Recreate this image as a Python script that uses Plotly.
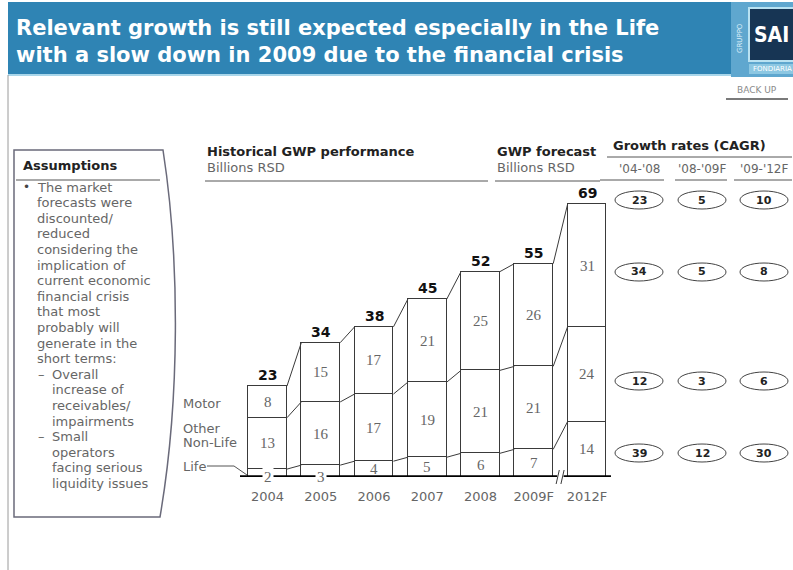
import plotly.graph_objects as go

W, H = 793, 570

# ---- data -------------------------------------------------------------
years = ["2004", "2005", "2006", "2007", "2008", "2009F", "2012F"]
life = [2, 3, 4, 5, 6, 7, 14]
other_non_life = [13, 16, 17, 19, 21, 21, 24]
motor = [8, 15, 17, 21, 25, 26, 31]
totals = [23, 34, 38, 45, 52, 55, 69]

cagr_periods = ["'04-'08", "'08-'09F", "'09-'12F"]
cagr_total = [23, 5, 10]
cagr_motor = [34, 5, 8]
cagr_other = [12, 3, 6]
cagr_life = [39, 12, 30]

assumption_lines = [
    "The market", "forecasts were", "discounted/", "reduced",
    "considering the", "implication of", "current economic",
    "financial crisis", "that most", "probably will",
    "generate in the", "short terms:",
]
sub_bullets = [
    ["Overall", "increase of", "receivables/", "impairments"],
    ["Small", "operators", "facing serious", "liquidity issues"],
]

# ---- helpers: pixel -> paper ------------------------------------------
def X(px):
    return px / W


def Y(py):
    return 1 - py / H


FONT = "DejaVu Sans"
SERIF = "Liberation Serif"
GREY = "#666666"
LINE = "#3a3a3a"
BAR_W = 0.73
xs = list(range(len(years)))

annotations = []
shapes = []


def txt(px, py, text, size, color=GREY, xanchor="left", family=FONT, **kw):
    annotations.append(dict(xref="paper", yref="paper", x=X(px), y=Y(py), text=text,
                            xanchor=xanchor, yanchor="middle", showarrow=False,
                            font=dict(family=family, size=size, color=color), **kw))


def hline(x0, x1, py, color="#555555", width=1):
    shapes.append(dict(type="line", xref="paper", yref="paper", x0=X(x0), x1=X(x1),
                       y0=Y(py), y1=Y(py), line=dict(color=color, width=width)))


fig = go.Figure()

# stacked segments, white fill with dark outline
for name, vals in [("Life", life), ("Other Non-Life", other_non_life), ("Motor", motor)]:
    fig.add_trace(go.Bar(
        x=xs, y=vals, name=name, width=BAR_W,
        marker=dict(color="white", line=dict(color=LINE, width=1)),
        hoverinfo="skip", showlegend=False,
    ))

# connector lines between neighbouring bars at every segment boundary
cum1 = life
cum2 = [a + b for a, b in zip(life, other_non_life)]
cum3 = [a + b + c for a, b, c in zip(life, other_non_life, motor)]
for cum in (cum1, cum2, cum3):
    cx, cy = [], []
    for i in range(len(xs) - 1):
        cx += [xs[i] + BAR_W / 2, xs[i + 1] - BAR_W / 2, None]
        cy += [cum[i], cum[i + 1], None]
    fig.add_trace(go.Scatter(x=cx, y=cy, mode="lines",
                             line=dict(color=LINE, width=1),
                             hoverinfo="skip", showlegend=False))

# segment value labels
for i in xs:
    base = 0
    for vals in (life, other_non_life, motor):
        v = vals[i]
        if v < 4:
            annotations.append(dict(x=xs[i], y=0, xref="x", yref="y", text=str(v),
                                    xanchor="center", yanchor="middle",
                                    showarrow=False, bgcolor="white", borderpad=1,
                                    font=dict(family=SERIF, size=15, color=GREY)))
        else:
            annotations.append(dict(x=xs[i], y=base + v / 2, xref="x", yref="y", text=str(v),
                                    xanchor="center", yanchor="middle", showarrow=False,
                                    font=dict(family=SERIF, size=15, color=GREY)))
        base += v
    # total label above the bar
    annotations.append(dict(x=xs[i], y=cum3[i], xref="x", yref="y", text="<b>%d</b>" % totals[i],
                            showarrow=False, xanchor="center", yanchor="bottom", yshift=1,
                            font=dict(family=FONT, size=14, color="#111111")))

# baseline with a break between 2009F and 2012F
brk = 5.5
shapes.append(dict(type="line", xref="x", yref="y", x0=-0.52, x1=brk - 0.06, y0=0, y1=0,
                   line=dict(color="black", width=3.5)))
shapes.append(dict(type="line", xref="x", yref="y", x0=brk + 0.06, x1=6.45, y0=0, y1=0,
                   line=dict(color="black", width=3.5)))
for dx in (-0.05, 0.04):
    shapes.append(dict(type="line", xref="x", yref="paper",
                       x0=brk + dx - 0.03, x1=brk + dx + 0.03,
                       y0=Y(484), y1=Y(470), line=dict(color=LINE, width=1)))

# ---- title band ---------------------------------------------------------
shapes.append(dict(type="rect", xref="paper", yref="paper", x0=X(8), x1=X(731), y0=Y(75), y1=Y(2),
                   fillcolor="#2f84b4", line=dict(width=0), layer="below"))
hline(8, 731, 75, color="#a9d6ea", width=2)
txt(14, 28, "<b>Relevant growth is still expected especially in the Life</b>", 21, "white")
txt(14, 55, "<b>with a slow down in 2009 due to the financial crisis</b>", 21, "white")

# logo block
shapes.append(dict(type="rect", xref="paper", yref="paper", x0=X(731), x1=X(793), y0=Y(77), y1=Y(2),
                   fillcolor="#5fa7cf", line=dict(width=0), layer="below"))
shapes.append(dict(type="rect", xref="paper", yref="paper", x0=X(749), x1=X(796), y0=Y(61), y1=Y(8),
                   fillcolor="#173554", line=dict(color="#b9e2f2", width=2)))
shapes.append(dict(type="rect", xref="paper", yref="paper", x0=X(749), x1=X(793), y0=Y(74), y1=Y(64),
                   fillcolor="#8cc7e2", line=dict(width=0)))
txt(771, 35, "<b>SAI</b>", 21, "white", xanchor="center", family="DejaVu Sans Condensed")
txt(751, 69, "FONDIARIA", 7, "white")
annotations.append(dict(xref="paper", yref="paper", x=X(740), y=Y(38), text="GRUPPO", showarrow=False,
                        xanchor="center", yanchor="middle", textangle=-90,
                        font=dict(family=FONT, size=7, color="#dff1fa")))

# back-up tag
txt(757, 90, "BACK UP", 9, "#8a8a8a", xanchor="center")
hline(726, 788, 99, color="#7a7a7a", width=2)

# left page rule
shapes.append(dict(type="line", xref="paper", yref="paper", x0=X(8), x1=X(8), y0=Y(570), y1=Y(75),
                   line=dict(color="#9a9a9a", width=1)))

# ---- assumptions box ----------------------------------------------------
shapes.append(dict(type="path", xref="paper", yref="paper",
                   path="M %f %f L %f %f C %f %f %f %f %f %f L %f %f Z" % (
                       X(14), Y(150), X(163), Y(150),
                       X(180), Y(260), X(180), Y(400), X(160), Y(517),
                       X(14), Y(517)),
                   line=dict(color="#6a6a7a", width=1.5), fillcolor="white", layer="below"))
hline(16, 160, 180)
txt(21, 165, "<b>Assumptions</b>", 13, "#222222")
txt(21, 187, "•", 12, "#444444")
LH = 15.6
row = 0
for line in assumption_lines:
    txt(35, 187 + row * LH, line, 13)
    row += 1
for group in sub_bullets:
    txt(36, 187 + row * LH, "–", 13)
    for line in group:
        txt(50, 187 + row * LH, line, 13)
        row += 1

# ---- chart headers ------------------------------------------------------
for x0, x1, head in [(205, 488, "Historical GWP performance"), (495, 600, "GWP forecast")]:
    txt(x0, 152, "<b>%s</b>" % head, 13, "#222222")
    txt(x0, 167, "Billions RSD", 13)
    hline(x0, x1, 181)

# series labels left of the bars
txt(181, 403, "Motor", 13)
txt(181, 428, "Other", 13)
txt(181, 442, "Non-Life", 13)
txt(181, 466, "Life", 13)
shapes.append(dict(type="path", xref="paper", yref="paper",
                   path="M %f %f L %f %f L %f %f" % (X(207), Y(466), X(234), Y(466), X(247), Y(475)),
                   line=dict(color="#555555", width=1)))

# ---- growth rates (CAGR) -----------------------------------------------
txt(611, 145, "<b>Growth rates (CAGR)</b>", 13, "#222222")
hline(607, 792, 157)
col_x = [639, 702, 764]
col_span = [(600, 664), (675, 727), (734, 792)]
for cx, (s0, s1), lab in zip(col_x, col_span, cagr_periods):
    txt(cx, 169, lab, 12, xanchor="center")
    hline(s0, s1, 180)

row_y = [200, 272, 381, 453]
for ry, vals in zip(row_y, [cagr_total, cagr_motor, cagr_other, cagr_life]):
    for cx, v in zip(col_x, vals):
        shapes.append(dict(type="circle", xref="paper", yref="paper",
                           x0=X(cx - 24), x1=X(cx + 24), y0=Y(ry + 9), y1=Y(ry - 9),
                           line=dict(color="#444444", width=1), fillcolor="white", layer="below"))
        txt(cx, ry, "<b>%d</b>" % v, 11, "#222222", xanchor="center")

# ---- layout -------------------------------------------------------------
PX_PER_UNIT = 3.95
x_unit = 53.25
x_left = -(267.5 - 240) / x_unit
x_right = (612 - 267.5) / x_unit

fig.update_layout(
    width=W, height=H,
    margin=dict(l=0, r=0, t=0, b=0),
    paper_bgcolor="white", plot_bgcolor="rgba(0,0,0,0)",
    barmode="stack", bargap=0,
    showlegend=False,
    xaxis=dict(domain=[X(240), X(612)], range=[x_left, x_right],
               tickvals=xs, ticktext=years, ticks="outside", ticklen=7,
               tickcolor="rgba(0,0,0,0)", showgrid=False, zeroline=False, showline=False,
               tickfont=dict(family=FONT, size=13, color=GREY), fixedrange=True),
    yaxis=dict(domain=[Y(477), Y(170)], range=[0, (477 - 170) / PX_PER_UNIT],
               visible=False, showgrid=False, zeroline=False, fixedrange=True),
    annotations=annotations,
    shapes=shapes,
)

fig.write_html("out.html")
